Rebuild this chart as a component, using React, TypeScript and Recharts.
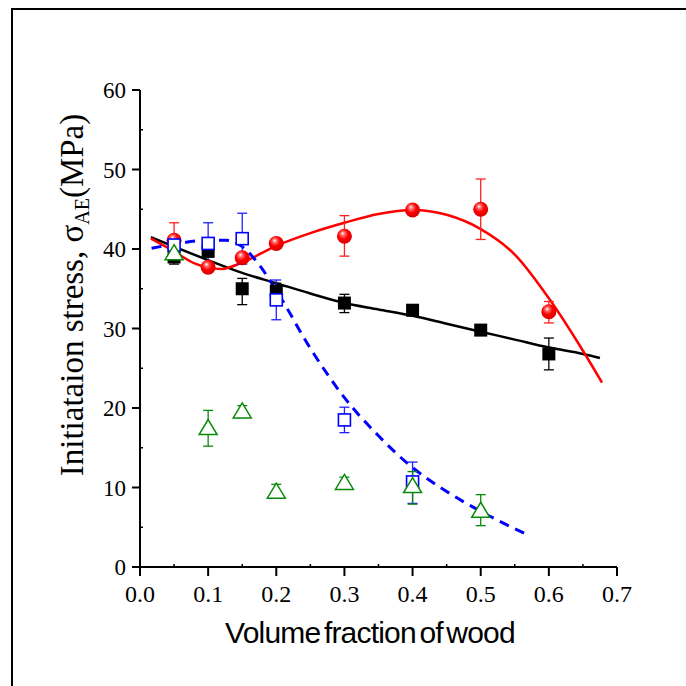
import React from 'react';
import { ComposedChart, XAxis, YAxis, Line, Scatter, ErrorBar } from 'recharts';

// ---- tick values ----
const X_TICKS = [0, 0.05, 0.1, 0.15, 0.2, 0.25, 0.3, 0.35, 0.4, 0.45, 0.5, 0.55, 0.6, 0.65, 0.7];
const Y_TICKS = [0, 5, 10, 15, 20, 25, 30, 35, 40, 45, 50, 55, 60];

// ---- measured points ----
const blackX = [0.05, 0.1, 0.15, 0.2, 0.3, 0.4, 0.5, 0.6];
const blackY = [39.0, 39.7, 35.0, 34.7, 33.2, 32.3, 29.8, 26.8];
const blackErr = [[0.9, 0.9], [0.6, 0.6], [2.0, 1.3], [1.0, 1.0], [1.2, 1.1], [0.4, 0.4], [0.5, 0.5], [2.0, 2.0]];

const redX = [0.05, 0.1, 0.15, 0.2, 0.3, 0.4, 0.5, 0.6];
const redY = [41.1, 37.7, 38.9, 40.7, 41.6, 44.9, 45.0, 32.1];
const redErr = [[2.1, 2.2], [0.5, 0.5], [0.6, 0.6], [0.5, 0.5], [2.5, 2.6], [0.4, 0.4], [3.8, 3.8], [1.4, 1.3]];

const blueX = [0.05, 0.1, 0.15, 0.2, 0.3, 0.4];
const blueY = [40.5, 40.7, 41.3, 33.6, 18.5, 10.7];
const blueErr = [[0.8, 0.8], [2.6, 2.6], [3.2, 3.2], [2.5, 2.5], [1.6, 1.6], [2.7, 2.5]];

const greenX = [0.05, 0.1, 0.15, 0.2, 0.3, 0.4, 0.5];
const greenY = [39.6, 17.6, 19.7, 9.6, 10.7, 10.3, 7.2];
const greenErr = [[0.9, 0.9], [2.4, 2.1], [0.9, 0.6], [0.9, 0.8], [0.9, 0.6], [2.4, 1.7], [2.0, 1.9]];

// ---- fitted curves ----
const blackFitX = [0.016, 0.05, 0.1, 0.15, 0.2, 0.25, 0.3, 0.35, 0.4, 0.45, 0.5, 0.55, 0.6, 0.65, 0.675];
const blackFitY = [41.5, 40.3, 38.6, 37.0, 35.7, 34.4, 33.2, 32.4, 31.6, 30.6, 29.6, 28.6, 27.6, 26.8, 26.3];

const redFitX = [0.016, 0.05, 0.08, 0.12, 0.15, 0.2, 0.25, 0.3, 0.35, 0.4, 0.45, 0.5, 0.55, 0.6, 0.65, 0.678];
const redFitY = [41.3, 39.7, 38.2, 37.5, 38.3, 40.4, 42.0, 43.3, 44.4, 44.9, 44.3, 42.5, 39.3, 33.8, 27.2, 23.2];

const blueFitX = [0.017, 0.05, 0.1, 0.125, 0.15, 0.175, 0.2, 0.25, 0.3, 0.35, 0.4, 0.45, 0.5, 0.565];
const blueFitY = [40.1, 40.6, 41.1, 41.1, 40.3, 38.0, 34.8, 27.5, 21.3, 16.5, 12.5, 9.5, 7.0, 4.2];

const pts = (xs: number[], ys: number[], errs?: number[][]) =>
  xs.map((x, i) => ({ x, y: ys[i], err: errs ? errs[i] : undefined }));

const blackPts = pts(blackX, blackY, blackErr);
const redPts = pts(redX, redY, redErr);
const bluePts = pts(blueX, blueY, blueErr);
const greenPts = pts(greenX, greenY, greenErr);
const blackFit = pts(blackFitX, blackFitY);
const redFit = pts(redFitX, redFitY);
const blueFit = pts(blueFitX, blueFitY);

const SERIF = '"Liberation Serif", "Times New Roman", serif';
const SANS = '"Liberation Sans", Arial, sans-serif';

const isMajor = (v: number, step: number) => Math.abs(v / step - Math.round(v / step)) < 1e-6;

const BottomTick = (props: any) => {
  const { x, y, payload } = props;
  const v = payload.value;
  const major = isMajor(v, 0.1);
  return (
    <g>
      {major ? (
        <line x1={x} y1={y} x2={x} y2={y + 9} stroke="#000" strokeWidth={2} />
      ) : (
        <line x1={x} y1={y} x2={x} y2={y - 3} stroke="#000" strokeWidth={1.5} />
      )}
      {major && (
        <text
          x={x}
          y={y + 35}
          textAnchor="middle"
          style={{ fontFamily: SERIF, fontSize: 24 }}
          fill="#000"
          stroke="none"
        >
          {v.toFixed(1)}
        </text>
      )}
    </g>
  );
};

const LeftTick = (props: any) => {
  const { x, y, payload } = props;
  const v = payload.value;
  const major = isMajor(v, 10);
  return (
    <g>
      {major ? (
        <line x1={x - 8} y1={y} x2={x} y2={y} stroke="#000" strokeWidth={2} />
      ) : (
        <line x1={x} y1={y} x2={x + 3} y2={y} stroke="#000" strokeWidth={1.5} />
      )}
      {major && (
        <text
          x={x - 14}
          y={y + 8}
          textAnchor="end"
          style={{ fontFamily: SERIF, fontSize: 23 }}
          fill="#000"
          stroke="none"
        >
          {String(v)}
        </text>
      )}
    </g>
  );
};

const TopTick = (props: any) => {
  const { x, y } = props;
  return <line x1={x} y1={y} x2={x} y2={y + 3} stroke="#000" strokeWidth={1.5} />;
};

const RightTick = (props: any) => {
  const { x, y } = props;
  return <line x1={x} y1={y} x2={x - 3} y2={y} stroke="#000" strokeWidth={1.5} />;
};

const BlackSquare = (props: any) => {
  const { cx, cy } = props;
  return <rect x={cx - 6.5} y={cy - 6.5} width={13} height={13} fill="#000" />;
};

const BlueSquare = (props: any) => {
  const { cx, cy } = props;
  return <rect x={cx - 6} y={cy - 6} width={12} height={12} fill="#fff" stroke="#0000ff" strokeWidth={1.6} />;
};

const GreenTriangle = (props: any) => {
  const { cx, cy } = props;
  const d = `M${cx},${cy - 7.5} L${cx + 9},${cy + 7.5} L${cx - 9},${cy + 7.5} Z`;
  return <path d={d} fill="#fff" stroke="#0a8a0a" strokeWidth={1.5} />;
};

const RedSphere = (props: any) => {
  const { cx, cy, index } = props;
  const id = `sphere-${index}`;
  return (
    <g>
      <defs>
        <radialGradient id={id} cx="0.45" cy="0.4" r="0.6" fx="0.38" fy="0.3">
          <stop offset="0%" stopColor="#ffffff" />
          <stop offset="22%" stopColor="#ff7070" />
          <stop offset="55%" stopColor="#ff0000" />
          <stop offset="100%" stopColor="#d80000" />
        </radialGradient>
      </defs>
      <circle cx={cx} cy={cy} r={7.5} fill={`url(#${id})`} />
    </g>
  );
};

const YTitle = () => (
  <text
    x={83}
    y={295}
    transform="rotate(-90, 83, 295)"
    textAnchor="middle"
    style={{ fontFamily: SERIF, fontSize: 33 }}
    fill="#000"
  >
    <tspan>Initiataion stress, σ</tspan>
    <tspan style={{ fontSize: 20 }} dy={6}>AE</tspan>
    <tspan dy={-6}>(MPa)</tspan>
  </text>
);

const XTitle = () => (
  <text
    x={370}
    y={643}
    textAnchor="middle"
    style={{ fontFamily: SANS, fontSize: 30, letterSpacing: -0.8, wordSpacing: -4 }}
    fill="#000"
  >
    Volume fraction of wood
  </text>
);

export default function App() {
  return (
    <div style={{ position: 'absolute', left: 0, top: 0, width: 686, height: 686, background: '#fff' }}>
      <div
        style={{
          position: 'absolute',
          left: 11,
          top: 8,
          width: 675,
          height: 678,
          borderLeft: '2.5px solid #000',
          borderTop: '2.5px solid #000',
          boxSizing: 'border-box',
        }}
      />
      <div style={{ position: 'absolute', left: 0, top: 0 }}>
        <ComposedChart width={686} height={686} margin={{ top: 90, right: 69, bottom: 89, left: 80 }}>
          <XAxis
            dataKey="x"
            type="number"
            domain={[0, 0.7]}
            ticks={X_TICKS}
            interval={0}
            allowDataOverflow
            height={30}
            tickSize={0}
            tickMargin={0}
            tickLine={false}
            axisLine={{ stroke: '#000', strokeWidth: 2 }}
            tick={<BottomTick />}
            label={{ content: () => <XTitle /> }}
          />
          <XAxis
            xAxisId="top"
            orientation="top"
            type="number"
            domain={[0, 0.7]}
            ticks={X_TICKS}
            interval={0}
            allowDataOverflow
            height={0}
            tickSize={0}
            tickMargin={0}
            tickLine={false}
            axisLine={{ stroke: '#000', strokeWidth: 2 }}
            tick={<TopTick />}
          />
          <YAxis
            dataKey="y"
            type="number"
            domain={[0, 60]}
            ticks={Y_TICKS}
            interval={0}
            allowDataOverflow
            width={60}
            tickSize={0}
            tickMargin={0}
            tickLine={false}
            axisLine={{ stroke: '#000', strokeWidth: 2 }}
            tick={<LeftTick />}
            label={{ content: () => <YTitle /> }}
          />
          <YAxis
            yAxisId="right"
            orientation="right"
            type="number"
            domain={[0, 60]}
            ticks={Y_TICKS}
            interval={0}
            allowDataOverflow
            width={0}
            tickSize={0}
            tickMargin={0}
            tickLine={false}
            axisLine={{ stroke: '#000', strokeWidth: 2 }}
            tick={<RightTick />}
          />
          <Line data={blackFit} dataKey="y" type="monotone" stroke="#000" strokeWidth={2.5} dot={false} activeDot={false} isAnimationActive={false} />
          <Line data={redFit} dataKey="y" type="monotone" stroke="#ff0000" strokeWidth={2.5} dot={false} activeDot={false} isAnimationActive={false} />
          <Line data={blueFit} dataKey="y" type="monotone" stroke="#0000ff" strokeWidth={3} strokeDasharray="10 7" dot={false} activeDot={false} isAnimationActive={false} />
          <Scatter data={blackPts} dataKey="y" shape={<BlackSquare />} isAnimationActive={false}>
            <ErrorBar dataKey="err" direction="y" width={5} stroke="#000" strokeWidth={1.3} />
          </Scatter>
          <Scatter data={redPts} dataKey="y" shape={<RedSphere />} isAnimationActive={false}>
            <ErrorBar dataKey="err" direction="y" width={5} stroke="#ff2020" strokeWidth={1.3} />
          </Scatter>
          <Scatter data={bluePts} dataKey="y" shape={<BlueSquare />} isAnimationActive={false}>
            <ErrorBar dataKey="err" direction="y" width={5} stroke="#2020ff" strokeWidth={1.3} />
          </Scatter>
          <Scatter data={greenPts} dataKey="y" shape={<GreenTriangle />} isAnimationActive={false}>
            <ErrorBar dataKey="err" direction="y" width={5} stroke="#0a8a0a" strokeWidth={1.3} />
          </Scatter>
        </ComposedChart>
      </div>
    </div>
  );
}
